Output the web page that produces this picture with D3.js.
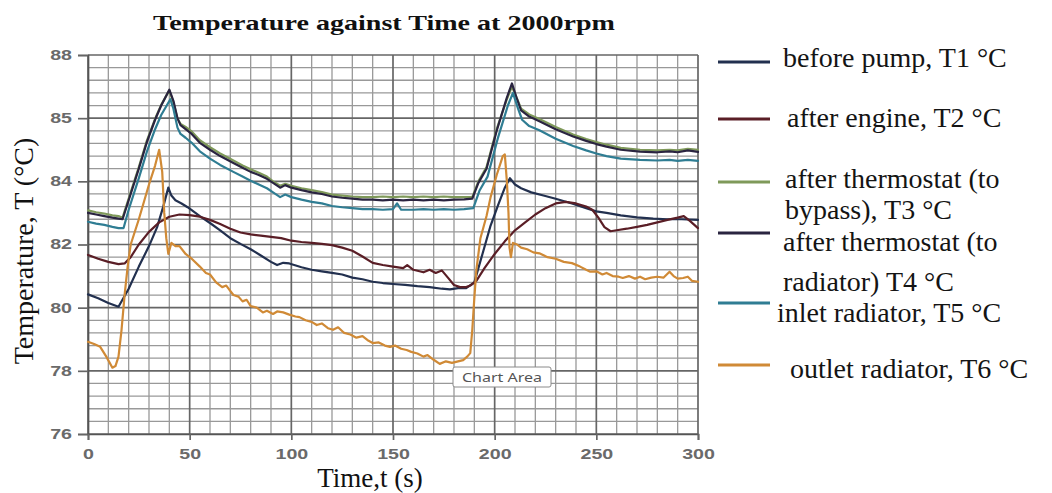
<!DOCTYPE html>
<html><head><meta charset="utf-8">
<script src="https://cdn.jsdelivr.net/npm/d3@7"></script>
<style>body{margin:0;background:#fff}</style>
</head><body><svg id="c" width="1052" height="493"></svg>
<script>
// ---------------- data ----------------
const chartTitle = "Temperature against Time at 2000rpm";
const xTitle = "Time,t (s)";
const yTitle = "Temperature, T (°C)";
const xTicks = [0, 50, 100, 150, 200, 250, 300];
const xTickLabels = ["0", "50", "100", "150", "200", "250", "300"];
const yTicks = [76, 78, 80, 82, 84, 86, 88];
const yTickLabels = ["76", "78", "80", "82", "84", "85", "88"];
const seriesLabels = [
  ["before pump, T1 °C"],
  ["after engine, T2 °C"],
  ["after thermostat (to", "bypass), T3 °C"],
  ["after thermostat (to", "radiator) T4 °C"],
  ["inlet radiator, T5 °C"],
  ["outlet radiator, T6 °C"]
];
// [time s, temperature °C]
const T1 = [[0,80.42],[5,80.3],[10,80.15],[15,80.03],[20,80.6],[25,81.3],[30,81.95],[34,82.55],[37,83.2],[39.5,83.8],[41,83.55],[43,83.4],[46,83.3],[49,83.18],[55,82.9],[60,82.68],[65,82.45],[70,82.2],[75,82.02],[80,81.85],[85,81.65],[90,81.45],[93,81.35],[96,81.42],[99,81.4],[105,81.28],[110,81.2],[115,81.15],[120,81.1],[125,81.05],[130,80.95],[135,80.9],[140,80.82],[145,80.78],[150,80.75],[156,80.72],[162,80.68],[168,80.65],[174,80.6],[178,80.58],[182,80.62],[186,80.62],[190,80.8],[194,81.7],[198,82.6],[202,83.3],[205,83.8],[207.5,84.1],[210,83.9],[213,83.78],[218,83.65],[224,83.55],[230,83.45],[238,83.3],[245,83.15],[250,83.05],[255,83.0],[262,82.92],[270,82.86],[278,82.82],[285,82.8],[292,82.8],[300,82.78]];
const T2 = [[0,81.67],[5,81.55],[10,81.45],[15,81.38],[18,81.4],[21,81.6],[25,82.0],[30,82.4],[35,82.7],[40,82.88],[45,82.95],[50,82.93],[55,82.88],[60,82.78],[65,82.65],[70,82.5],[75,82.38],[80,82.32],[85,82.28],[90,82.24],[95,82.2],[100,82.12],[105,82.08],[110,82.05],[115,82.02],[120,81.98],[125,81.9],[130,81.8],[135,81.62],[140,81.42],[145,81.35],[150,81.3],[155,81.25],[157,81.35],[160,81.2],[165,81.12],[168,81.2],[171,81.1],[174,81.18],[177,80.95],[180,80.72],[183,80.65],[186,80.65],[188,80.7],[191,80.85],[195,81.25],[200,81.7],[205,82.1],[210,82.45],[215,82.7],[220,82.95],[225,83.15],[230,83.3],[235,83.35],[240,83.3],[245,83.2],[248,83.1],[251,82.85],[254,82.55],[257,82.42],[260,82.45],[265,82.5],[270,82.56],[275,82.62],[280,82.7],[285,82.78],[290,82.85],[293,82.9],[296,82.75],[300,82.52]];
const T3 = [[0,83.08],[4,83.02],[8,82.98],[12,82.92],[15,82.9],[17,82.85],[20,83.45],[25,84.45],[29,85.3],[33,85.98],[36,86.42],[40,86.88],[42,86.5],[44,85.98],[45.5,85.82],[48,85.72],[51,85.58],[55,85.3],[60,85.08],[65,84.88],[71.5,84.66],[76,84.5],[80,84.38],[84,84.27],[88,84.15],[91,84.0],[94.5,83.86],[97,83.92],[100,83.86],[105,83.78],[110,83.72],[115,83.66],[120,83.58],[125,83.55],[130,83.52],[135,83.5],[140,83.5],[145,83.52],[150,83.5],[155,83.52],[160,83.5],[165,83.52],[170,83.5],[175,83.52],[180,83.5],[185,83.5],[189,83.5],[192,84.0],[196,84.45],[201,85.65],[206,86.6],[208.5,87.0],[211,86.62],[213,86.3],[217,86.12],[222,85.97],[230,85.72],[238.6,85.48],[245,85.34],[250,85.24],[255,85.16],[262,85.06],[271.5,85.0],[280,84.98],[286,85.0],[290,84.98],[295,85.03],[300,85.0]];
const T4 = [[0,83.0],[4,82.95],[8,82.9],[12,82.85],[15,82.82],[17,82.8],[20,83.4],[25,84.4],[29,85.25],[33,85.95],[36,86.4],[40,86.9],[42,86.55],[44,86.0],[45.5,85.78],[48,85.65],[51,85.5],[55,85.22],[60,85.0],[65,84.8],[71.5,84.58],[76,84.43],[80,84.3],[84,84.2],[88,84.08],[91,83.95],[94.5,83.8],[97,83.88],[100,83.8],[105,83.72],[110,83.65],[115,83.6],[120,83.52],[125,83.48],[130,83.45],[135,83.42],[140,83.42],[145,83.4],[150,83.42],[155,83.4],[160,83.42],[165,83.4],[170,83.42],[175,83.4],[180,83.42],[185,83.43],[189,83.45],[192,83.95],[196,84.4],[201,85.6],[206,86.65],[208.5,87.1],[211,86.6],[213,86.25],[217,86.05],[222,85.9],[230,85.65],[238.6,85.42],[245,85.28],[250,85.18],[255,85.1],[262,85.0],[271.5,84.94],[280,84.92],[286,84.95],[290,84.92],[295,84.98],[300,84.93]];
const T5 = [[0,82.72],[4,82.66],[8,82.62],[12,82.56],[15,82.52],[17.5,82.52],[20,83.1],[25,84.1],[29,84.95],[33,85.65],[36,86.1],[40.5,86.6],[42,86.3],[44,85.7],[45.5,85.5],[48,85.38],[51,85.22],[55,84.95],[60,84.72],[65,84.52],[71.5,84.3],[76,84.15],[80,84.02],[84,83.9],[88,83.78],[91,83.65],[94.5,83.5],[97,83.58],[100,83.5],[105,83.42],[110,83.35],[115,83.3],[120,83.22],[125,83.18],[130,83.15],[135,83.12],[140,83.12],[145,83.1],[150,83.12],[152,83.3],[154,83.1],[160,83.1],[165,83.12],[170,83.1],[175,83.12],[180,83.1],[185,83.12],[189.5,83.15],[192.5,83.7],[196.5,84.15],[201.5,85.35],[206.5,86.4],[209,86.8],[211.5,86.3],[213.5,85.95],[217,85.75],[222,85.62],[230,85.35],[238.6,85.12],[245,84.98],[250,84.88],[255,84.8],[262,84.72],[271.5,84.68],[280,84.66],[286,84.68],[290,84.65],[295,84.68],[300,84.65]];
const T6 = [[0,78.92],[3,78.85],[6,78.76],[9,78.45],[12,78.1],[13.5,78.15],[15,78.45],[16.5,79.3],[18,80.4],[19.5,81.3],[21,82.0],[25,82.8],[30,83.9],[33,84.5],[35,85.0],[36.5,84.3],[37.5,83.0],[38.5,82.2],[39.5,81.7],[41,82.05],[43,81.95],[45,81.95],[48,81.7],[51,81.55],[55,81.3],[58,81.1],[60,81.05],[63,80.8],[66,80.65],[68,80.7],[71.5,80.4],[74,80.35],[76,80.2],[78,80.25],[80,80.05],[83,80.0],[86,79.85],[88,79.9],[91,79.8],[93,79.88],[96,79.85],[99,79.78],[102,79.72],[104,79.7],[107,79.6],[110,79.55],[112.5,79.45],[115,79.5],[118,79.35],[120.5,79.3],[123,79.38],[126,79.2],[129,79.15],[132,79.05],[135,79.1],[138,78.95],[140,78.88],[143,78.9],[146,78.8],[148.5,78.76],[151,78.8],[154,78.7],[156.7,78.66],[159,78.6],[162,78.55],[165,78.45],[167,78.5],[170,78.35],[173,78.22],[176,78.3],[179,78.25],[182,78.3],[184.5,78.34],[186.5,78.45],[188,78.56],[189,79.3],[190,80.3],[191,81.2],[193,82.2],[196,82.9],[198,83.5],[201,84.2],[204,84.8],[205,84.85],[206,84.0],[206.8,83.0],[207.3,81.9],[208,81.6],[209,82.05],[211,82.0],[213,81.9],[216,81.85],[219,81.75],[222,81.72],[226,81.6],[230,81.55],[234,81.45],[238,81.41],[242,81.3],[245,81.2],[247,81.14],[250,81.15],[253,81.05],[255,81.1],[258,81.0],[261,80.98],[263,80.94],[266,81.0],[269,80.92],[271.5,80.98],[274,80.9],[277,80.95],[280,80.98],[283,80.95],[286,81.14],[288,81.0],[290,80.92],[292.7,80.94],[295,80.98],[297,80.85],[300,80.82]];
const seriesData = [T1, T2, T3, T4, T5, T6];
const tooltipText = "Chart Area";

// ---------------- styles / layout ----------------
const colors = ["#22304f", "#5a1e26", "#7f995a", "#2a2440", "#2f7d93", "#d08a36"];
const svg = d3.select("#c");
const x = d3.scaleLinear().domain([0, 300]).range([88, 698]);
const y = d3.scaleLinear().domain([76, 88]).range([434, 55]);

// grid
const grid = svg.append("g");
const minorX = d3.range(0, 301, 10).filter(v => v % 50 !== 0);
const minorY = d3.range(0, 31).map(i => 76 + i * 0.4).filter(v => Math.abs(v / 2 - Math.round(v / 2)) > 1e-6);
grid.selectAll(".mx").data(minorX).join("line")
  .attr("x1", d => x(d)).attr("x2", d => x(d)).attr("y1", y(88)).attr("y2", y(76))
  .attr("stroke", "#999").attr("stroke-width", 1.3);
grid.selectAll(".my").data(minorY).join("line")
  .attr("y1", d => y(d)).attr("y2", d => y(d)).attr("x1", x(0)).attr("x2", x(300))
  .attr("stroke", "#999").attr("stroke-width", 1.3);
grid.selectAll(".Mx").data(xTicks).join("line")
  .attr("x1", d => x(d)).attr("x2", d => x(d)).attr("y1", y(88)).attr("y2", y(76))
  .attr("stroke", "#666").attr("stroke-width", 1.7);
grid.selectAll(".My").data(yTicks).join("line")
  .attr("y1", d => y(d)).attr("y2", d => y(d)).attr("x1", x(0)).attr("x2", x(300))
  .attr("stroke", "#666").attr("stroke-width", 1.7);

// axes
const stretch = (sel, f) => sel.each(function () {
  const w = this.getComputedTextLength();
  d3.select(this).attr("textLength", w * f).attr("lengthAdjust", "spacingAndGlyphs");
});
const yAxis = svg.append("g").attr("transform", `translate(${x(0)},0)`)
  .call(d3.axisLeft(y).tickValues(yTicks).tickFormat((d, i) => yTickLabels[i]).tickSize(10).tickPadding(6));
const xAxis = svg.append("g").attr("transform", `translate(0,${y(76)})`)
  .call(d3.axisBottom(x).tickValues(xTicks).tickFormat((d, i) => xTickLabels[i]).tickSize(6).tickPadding(9));
[yAxis, xAxis].forEach(a => {
  a.selectAll("path.domain").attr("stroke", "#555").attr("stroke-width", 1.7);
  a.selectAll(".tick line").attr("stroke", "#666").attr("stroke-width", 1.7);
  a.selectAll("text").attr("font-family", "Liberation Sans, Arial, sans-serif")
    .attr("font-size", 14).attr("font-weight", "bold").attr("fill", "#6a6a6a");
  stretch(a.selectAll("text"), 1.4);
});

// series
const line = d3.line().x(d => x(d[0])).y(d => y(d[1]));
svg.append("g").selectAll("path").data(seriesData).join("path")
  .attr("d", line).attr("fill", "none")
  .attr("stroke", (d, i) => colors[i]).attr("stroke-width", 2.2)
  .attr("stroke-linejoin", "round").attr("stroke-linecap", "round");

// titles
const title = svg.append("text").attr("x", 384).attr("y", 30).attr("text-anchor", "middle")
  .attr("font-family", "Liberation Serif, Times New Roman, serif").attr("font-weight", "bold")
  .attr("font-size", 22).attr("fill", "#111").text(chartTitle);
title.attr("textLength", 462).attr("lengthAdjust", "spacingAndGlyphs");
svg.append("text").attr("x", 370).attr("y", 487).attr("text-anchor", "middle")
  .attr("font-family", "Liberation Serif, Times New Roman, serif").attr("font-size", 27)
  .attr("fill", "#111").text(xTitle);
svg.append("text").attr("transform", "translate(33,251) rotate(-90)").attr("text-anchor", "middle")
  .attr("font-family", "Liberation Serif, Times New Roman, serif").attr("font-size", 28)
  .attr("fill", "#111").text(yTitle);

// legend
const legLineY = [62, 119, 182, 233, 303, 365];
const legTextX = [783, 787, 785, 783, 777, 790];
const legTextY = [67, 127, 188, 251, 322, 378];
const legLineGap = [0, 0, 31, 40, 0, 0];
const leg = svg.append("g");
seriesLabels.forEach((lbl, i) => {
  leg.append("line").attr("x1", 718).attr("x2", 770).attr("y1", legLineY[i]).attr("y2", legLineY[i])
    .attr("stroke", colors[i]).attr("stroke-width", 3);
  lbl.forEach((t, j) => {
    leg.append("text").attr("x", legTextX[i]).attr("y", legTextY[i] + j * legLineGap[i])
      .attr("font-family", "Liberation Serif, Times New Roman, serif").attr("font-size", 28)
      .attr("fill", "#141414").text(t);
  });
});

// "Chart Area" tooltip
const tip = svg.append("g");
tip.append("rect").attr("x", 453).attr("y", 367).attr("width", 98).attr("height", 20).attr("rx", 2)
  .attr("fill", "#fff").attr("stroke", "#8a8a8a").attr("stroke-width", 1);
const tt = tip.append("text").attr("x", 502).attr("y", 382).attr("text-anchor", "middle")
  .attr("font-family", "Noto Sans, Open Sans, sans-serif").attr("font-size", 13)
  .attr("fill", "#555").text(tooltipText);
tt.attr("textLength", 80).attr("lengthAdjust", "spacingAndGlyphs");
</script></body></html>
